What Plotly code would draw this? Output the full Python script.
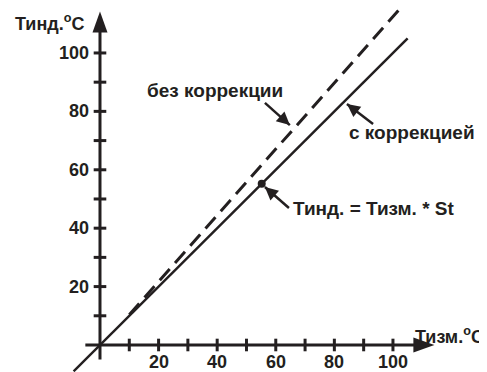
import numpy as np
import plotly.graph_objects as go

# data
tick_vals = [10, 20, 30, 40, 50, 60, 70, 80, 90, 100]
label_vals = [20, 40, 60, 80, 100]
corrected_x = [-9, 105]
corrected_y = [-9, 105]
uncorrected_x = [10, 102]
uncorrected_y = [10.4, 114.7]
point_x = [55.2]
point_y = [55.2]

# pointer arrows: tail -> tip
pointer_x = [[56.3, 64.8], [93.2, 84.3], [64.5, 56.3]]
pointer_y = [[82.9, 75.3], [75.7, 82.5], [46.9, 54.1]]

ink = '#231f20'
tick_font = dict(family='Liberation Sans, Arial', size=18, color=ink, weight='bold')
font = dict(family='Liberation Sans, Arial', size=19, color=ink, weight='bold')

W, H = 479, 364
x_range = [-31.4, 132.1]
y_range = [-9.25, 115.4]
sx = W / (x_range[1] - x_range[0])
sy = H / (y_range[1] - y_range[0])

fig = go.Figure()

# axes
fig.add_trace(go.Scatter(x=[-5, 108], y=[0, 0], mode='lines',
                         line=dict(color=ink, width=3), hoverinfo='skip'))
fig.add_trace(go.Scatter(x=[0, 0], y=[-5, 108], mode='lines',
                         line=dict(color=ink, width=3), hoverinfo='skip'))

# tick marks
fig.add_trace(go.Scatter(x=tick_vals, y=[0] * len(tick_vals), mode='markers',
                         marker=dict(symbol='line-ns', size=9, line=dict(color=ink, width=3))))
fig.add_trace(go.Scatter(x=[0] * len(tick_vals), y=tick_vals, mode='markers',
                         marker=dict(symbol='line-ew', size=9, line=dict(color=ink, width=3))))

# lines
fig.add_trace(go.Scatter(x=uncorrected_x, y=uncorrected_y, mode='lines',
                         line=dict(color=ink, width=3, dash='15px,8px')))
fig.add_trace(go.Scatter(x=corrected_x, y=corrected_y, mode='lines',
                         line=dict(color=ink, width=2.5)))
fig.add_trace(go.Scatter(x=point_x, y=point_y, mode='markers',
                         marker=dict(color=ink, size=8)))

# axis arrowheads
fig.add_shape(type='path', xref='x', yref='y', xsizemode='pixel', ysizemode='pixel',
              xanchor=0, yanchor=108, path='M -7.5 -3 L 7.5 -3 L 0 18 Z',
              fillcolor=ink, line=dict(width=0))
fig.add_shape(type='path', xref='x', yref='y', xsizemode='pixel', ysizemode='pixel',
              xanchor=108, yanchor=0, path='M -3 -7.5 L -3 7.5 L 18 0 Z',
              fillcolor=ink, line=dict(width=0))

# pointer arrows
head_len, head_w = 13, 13
for px, py in zip(pointer_x, pointer_y):
    fig.add_trace(go.Scatter(x=px, y=py, mode='lines',
                             line=dict(color=ink, width=2.5)))
    dx = (px[1] - px[0]) * sx
    dy = (py[1] - py[0]) * sy
    n = np.hypot(dx, dy)
    ux, uy = dx / n, dy / n
    bx, by = -head_len * ux, -head_len * uy
    p1 = (bx - uy * head_w / 2, by + ux * head_w / 2)
    p2 = (bx + uy * head_w / 2, by - ux * head_w / 2)
    path = f'M 0 0 L {p1[0]:.2f} {p1[1]:.2f} L {p2[0]:.2f} {p2[1]:.2f} Z'
    fig.add_shape(type='path', xref='x', yref='y', xsizemode='pixel', ysizemode='pixel',
                  xanchor=px[1], yanchor=py[1], path=path,
                  fillcolor=ink, line=dict(width=0))

# tick labels
for v in label_vals:
    fig.add_annotation(x=0, y=v, text=str(v), showarrow=False, xanchor='right',
                       yanchor='middle', xshift=-9, font=tick_font)
    fig.add_annotation(x=v, y=0, text=str(v), showarrow=False, xanchor='center',
                       yanchor='middle', yshift=-17, font=tick_font)

# axis titles
fig.add_annotation(x=-29.7, y=110.3, text='Тинд.<sup>o</sup>C', showarrow=False,
                   xanchor='left', yanchor='middle', font=tick_font)
fig.add_annotation(x=131.8, y=3.1, text='Тизм.<sup>o</sup>C', showarrow=False,
                   xanchor='right', yanchor='middle', font=tick_font)

# labels
fig.add_annotation(x=15.5, y=87, text='без коррекции', showarrow=False,
                   xanchor='left', yanchor='middle', font=font)
fig.add_annotation(x=84.3, y=72.6, text='с коррекцией', showarrow=False,
                   xanchor='left', yanchor='middle', font=font)
fig.add_annotation(x=65.2, y=46.6, text='Тинд. = Тизм. * St', showarrow=False,
                   xanchor='left', yanchor='middle', font=font)

fig.update_layout(width=W, height=H, margin=dict(l=0, r=0, t=0, b=0),
                  paper_bgcolor='white', plot_bgcolor='white', showlegend=False)
fig.update_xaxes(visible=False, range=x_range)
fig.update_yaxes(visible=False, range=y_range)

fig.write_html('out.html')
